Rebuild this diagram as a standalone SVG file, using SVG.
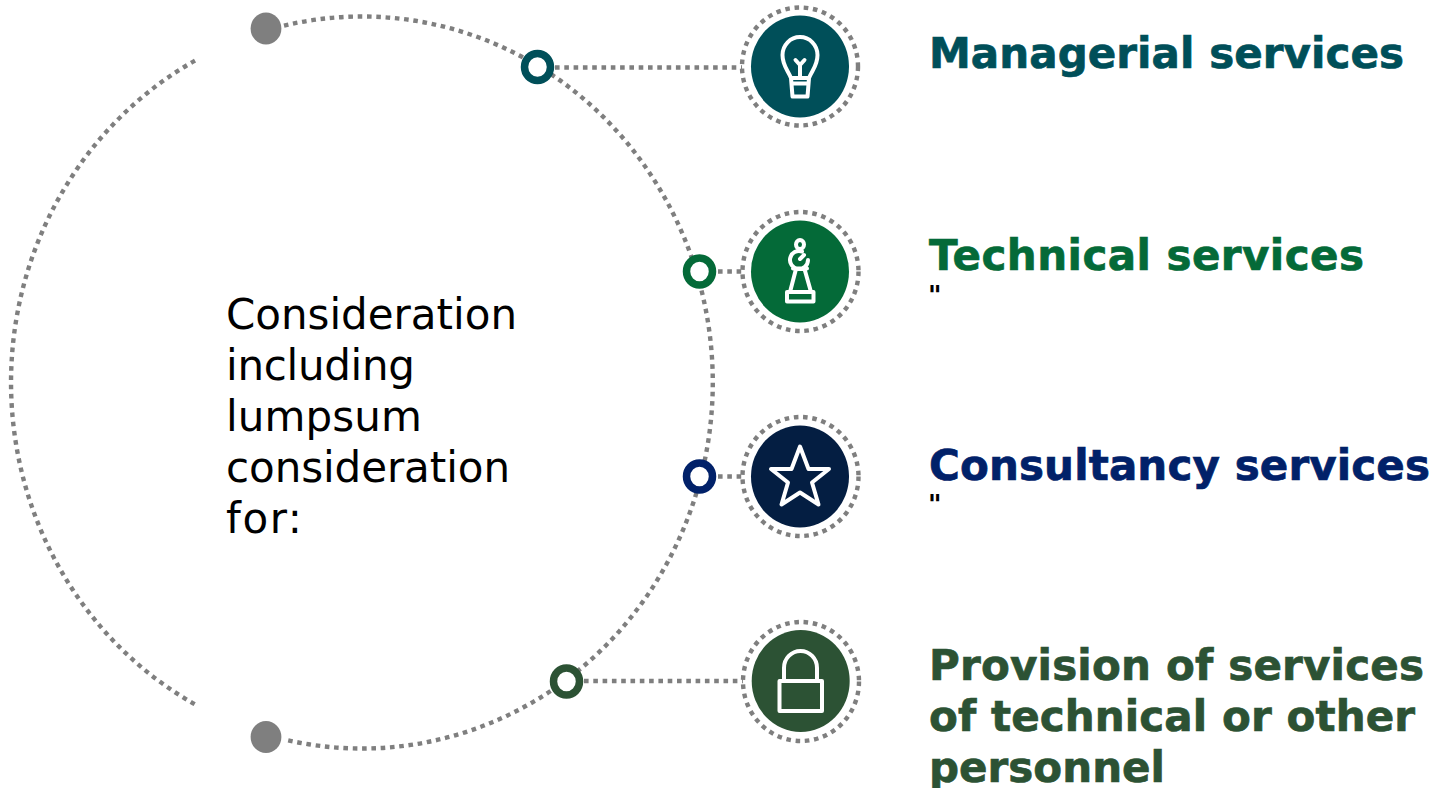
<svg xmlns="http://www.w3.org/2000/svg" width="1434" height="788" viewBox="0 0 1434 788">
<style>
.dot{fill:none;stroke:#7f7f7f;stroke-width:4.4;stroke-dasharray:4.6 4.7}
.ic{fill:none;stroke:#fff;stroke-width:4;stroke-linejoin:round;stroke-linecap:round}
.ring{fill:#fff;stroke-width:7.5}
.t{font-family:"DejaVu Sans",Verdana,sans-serif;font-size:42px;font-weight:700;stroke-width:.7}
.b{font-family:"DejaVu Sans",Verdana,sans-serif;font-size:42px;fill:#000}
.q{font-family:"DejaVu Sans",Verdana,sans-serif;font-size:26px;font-weight:700;fill:#000}
.halo{fill:#fff;stroke:#7f7f7f;stroke-width:4.4;stroke-dasharray:4.6 4.7}
</style>
<rect width="1434" height="788" fill="#fff"/>
<g id="connectors">
<path class="dot" d="M195 60.600A351 366 0 0 0 195 704.400"/>
<path class="dot" d="M284 25.600A351 366 0 1 1 284 739.400"/>
<path class="dot" d="M555 67.500H745"/>
<path class="dot" d="M718 271.500H745"/>
<path class="dot" d="M718 476.500H745"/>
<path class="dot" d="M584 681H745"/>
</g>
<g id="start-dot"><ellipse cx="266" cy="28.500" rx="15.400" ry="16" fill="#7f7f7f"/></g>
<g id="end-dot"><ellipse cx="266" cy="737" rx="15.400" ry="16" fill="#7f7f7f"/></g>
<g id="ring-1"><ellipse class="ring" cx="537.500" cy="67" rx="13" ry="13.500" stroke="#004f59"/></g>
<g id="ring-2"><ellipse class="ring" cx="699.500" cy="271.500" rx="13" ry="13.500" stroke="#046a38"/></g>
<g id="ring-3"><ellipse class="ring" cx="699.500" cy="476.500" rx="13" ry="13.500" stroke="#012169"/></g>
<g id="ring-4"><ellipse class="ring" cx="566.500" cy="681.500" rx="13" ry="13.500" stroke="#2c5234"/></g>
<g id="node-managerial">
<ellipse class="halo" cx="800" cy="66.500" rx="58" ry="59"/>
<ellipse cx="800" cy="66.500" rx="49" ry="51" fill="#004f59"/>
<path class="ic" d="M791 78C788 70 782.500 66 782.500 55A17.500 18 0 0 1 817.500 55C817.500 66 812 70 809 78ZM791 78L792.500 96.500H807.500L809 78M793 83.500H807M800 78V65M795.500 60L800 65L804.500 60"/>
<text class="t" x="929" y="68" fill="#004f59" stroke="#004f59" textLength="475">Managerial services</text>
</g>
<g id="node-technical">
<ellipse class="halo" cx="800.500" cy="271.500" rx="58" ry="59.500"/>
<ellipse cx="800" cy="271.500" rx="49" ry="51" fill="#046a38"/>
<path class="ic" d="M787 301.500V292H813.500V301.500ZM790 292L796 269H804.500L811 292"/>
<ellipse class="ic" cx="800" cy="244.500" rx="4" ry="4.500"/>
<path class="ic" d="M802 251.500A9 9 0 1 0 808 260M804 255L800 259M793 268.500H807"/>
<text class="t" x="929" y="270" fill="#046a38" stroke="#046a38" textLength="435">Technical services</text>
<text class="q" x="928" y="305">"</text>
</g>
<g id="node-consultancy">
<ellipse class="halo" cx="800.500" cy="476.500" rx="58" ry="59.500"/>
<ellipse cx="800" cy="476.500" rx="49" ry="51" fill="#041e42"/>
<path class="ic" d="M800 446.500L808.500 469H829L812 482.500L818.500 504.500L800 492.500L781.500 504.500L788 482.500L771 469H791.500Z"/>
<text class="t" x="929" y="480" fill="#012169" stroke="#012169" textLength="501">Consultancy services</text>
<text class="q" x="928" y="514">"</text>
</g>
<g id="node-personnel">
<ellipse class="halo" cx="801" cy="681.500" rx="58" ry="59.500"/>
<ellipse cx="800.700" cy="681" rx="49" ry="51" fill="#2c5234"/>
<path class="ic" d="M779.500 681H822V711H779.500ZM784 681V668A16.500 17 0 0 1 817 668V681"/>
<text class="t" x="929" y="680" fill="#2c5234" stroke="#2c5234" textLength="495">Provision of services</text>
<text class="t" x="929" y="731" fill="#2c5234" stroke="#2c5234" textLength="486">of technical or other</text>
<text class="t" x="929" y="782" fill="#2c5234" stroke="#2c5234" textLength="236">personnel</text>
</g>
<g id="center-label">
<text class="b" x="226" y="329" textLength="291">Consideration</text>
<text class="b" x="226" y="380" textLength="189">including</text>
<text class="b" x="226" y="431" textLength="196">lumpsum</text>
<text class="b" x="226" y="482" textLength="284">consideration</text>
<text class="b" x="226" y="533" textLength="76">for:</text>
</g>
</svg>
